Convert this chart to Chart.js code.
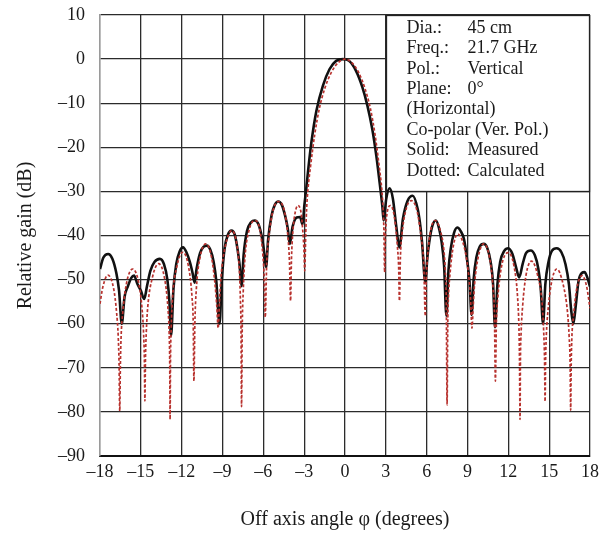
<!DOCTYPE html>
<html>
<head>
<meta charset="utf-8">
<script src="https://cdn.jsdelivr.net/npm/chart.js@4.4.1/dist/chart.umd.min.js"></script>
<style>
  html, body { margin: 0; padding: 0; background: #ffffff; }
  #wrap { width: 600px; height: 534px; }
</style>
</head>
<body>
<div id="wrap"><canvas id="c" width="600" height="534"></canvas></div>
<script>
// Off-axis radiation pattern, 45 cm reflector at 21.7 GHz, co-polar cut.

// Measured pattern (solid): angle in degrees, gain in dB
const measuredAngle = [
  -18.0, -17.75, -17.4, -17.1, -16.8, -16.6, -16.4, -16.2, -15.95, -15.7, -15.5, -15.25, -15.0, -14.75, -14.55, -14.3, -14.0, -13.6,
  -13.3, -13.05, -12.9, -12.78, -12.6, -12.4, -12.15, -11.9, -11.65, -11.4, -11.2, -11.05, -10.9, -10.65, -10.4, -10.15,
  -9.9, -9.65, -9.45, -9.22, -9.05, -8.85, -8.6, -8.34, -8.1, -7.9, -7.75, -7.6, -7.45, -7.2, -6.9, -6.63,
  -6.35, -6.1, -5.95, -5.8, -5.65, -5.4, -5.15, -4.9, -4.65, -4.4, -4.2, -4.06, -3.85, -3.55, -3.3, -3.12,
  -2.98, -2.85, -2.7, -2.47, -2.1, -1.62, -1.14, -0.65, -0.15, 0.3, 0.8, 1.28, 1.65, 2.0, 2.3, 2.54, 2.74, 2.84,
  3.03, 3.28, 3.52, 3.76, 4.0, 4.25, 4.6, 4.98, 5.34, 5.5, 5.66, 5.9, 6.05, 6.19, 6.4, 6.67, 6.92, 7.1, 7.28, 7.45,
  7.6, 7.77, 8.0, 8.25, 8.5, 8.74, 8.95, 9.15, 9.3, 9.45, 9.65, 9.9, 10.2, 10.45, 10.7, 10.88, 11.02,
  11.2, 11.4, 11.7, 12.0, 12.3, 12.55, 12.8, 13.05, 13.3, 13.65, 13.95, 14.2, 14.38, 14.55,
  14.72, 14.95, 15.2, 15.55, 15.9, 16.2, 16.45, 16.62, 16.78, 16.95, 17.15, 17.4, 17.6, 17.8, 18.0
];
const measuredGain = [
  -47.6, -45.0, -44.2, -45.2, -48.5, -52.5, -60.0, -54.0, -51.5, -49.6, -49.1, -51.0, -52.5, -54.4, -51.5, -48.0, -46.0, -45.3,
  -46.5, -50.0, -55.0, -62.7, -52.0, -46.5, -43.6, -42.7, -43.8, -46.0, -48.5, -50.7, -47.5, -44.0, -42.6, -42.3,
  -43.2, -46.0, -50.5, -60.0, -50.0, -43.0, -39.8, -38.9, -39.8, -43.0, -46.5, -51.5, -44.5, -39.0, -37.0, -36.6,
  -37.5, -40.5, -43.5, -47.2, -41.0, -35.5, -33.0, -32.3, -33.0, -35.5, -38.5, -41.9, -38.0, -35.9, -35.8, -37.5,
  -33.0, -29.5, -25.0, -18.9, -11.7, -6.0, -2.3, -0.4, 0.0, -0.4, -2.6, -6.4, -10.6, -15.8, -21.9, -27.9, -33.2, -36.6,
  -31.7, -29.3, -31.7, -37.8, -42.7, -36.3, -32.1, -31.0, -34.0, -37.0, -41.5, -50.6, -45.0, -41.5, -38.0, -36.6, -38.5, -41.5, -46.8, -58.2,
  -48.0, -43.0, -39.5, -38.2, -39.0, -40.8, -45.0, -50.5, -58.0, -50.0, -45.0, -42.5, -41.9, -42.8, -46.0, -51.0, -60.8,
  -51.0, -46.0, -43.5, -42.9, -44.2, -47.0, -49.5, -46.5, -44.0, -43.4, -44.5, -47.5, -52.0, -60.0,
  -51.0, -46.0, -43.5, -42.9, -43.8, -46.5, -51.0, -57.0, -60.0, -56.0, -50.5, -48.5, -48.3, -49.5, -51.6
];

// Calculated pattern (dotted): angle in degrees, gain in dB
const calculatedAngle = [
  -18.0, -17.8, -17.42, -17.0, -16.78, -16.66, -16.6, -16.55,
  -16.5, -16.45, -16.33, -16.05, -15.6, -15.15, -14.9, -14.8, -14.74, -14.7,
  -14.66, -14.6, -14.5, -14.15, -13.7, -13.27, -13.02, -12.92, -12.88, -12.85,
  -12.82, -12.77, -12.67, -12.35, -11.92, -11.5, -11.24, -11.15, -11.1,
  -11.03, -10.92, -10.65, -10.22, -9.8, -9.55, -9.42, -9.32,
  -9.22, -9.1, -8.8, -8.32, -7.95, -7.75, -7.68, -7.64, -7.6,
  -7.55, -7.48, -7.35, -7.05, -6.62, -6.25, -6.02, -5.93, -5.86,
  -5.75, -5.6, -5.3, -4.9, -4.45, -4.2, -4.08, -4.0,
  -3.93, -3.85, -3.7, -3.45, -3.22, -3.1, -3.02, -2.96,
  -2.88, -2.82, -2.72, -2.52, -2.22, -1.87, -1.47, -1.0, -0.5, 0.0,
  0.5, 1.0, 1.45, 1.85, 2.2, 2.5, 2.7, 2.8, 2.86, 2.91,
  2.97, 3.05, 3.15, 3.33, 3.55, 3.72, 3.85, 3.94, 4.0,
  4.07, 4.18, 4.45, 4.86, 5.3, 5.6, 5.78, 5.9,
  5.97, 6.06, 6.3, 6.62, 7.0, 7.27, 7.37, 7.44, 7.5,
  7.55, 7.6, 7.72, 7.95, 8.28, 8.75, 9.05, 9.22, 9.33,
  9.42, 9.52, 9.78, 10.18, 10.62, 10.88, 10.98, 11.05,
  11.12, 11.23, 11.5, 11.98, 12.42, 12.68, 12.78, 12.82, 12.86,
  12.89, 12.94, 13.05, 13.3, 13.7, 14.15, 14.5, 14.6, 14.66, 14.7,
  14.74, 14.8, 14.9, 15.15, 15.56, 16.02, 16.35, 16.47, 16.54, 16.58,
  16.62, 16.67, 16.78, 17.0, 17.42, 17.75, 18.0
];
const calculatedGain = [
  -55.5, -51.8, -49.0, -52.0, -57.5, -63.0, -69.0, -79.8,
  -69.0, -63.0, -57.5, -50.8, -47.6, -50.8, -57.0, -62.0, -68.0, -77.5,
  -68.0, -62.0, -56.5, -49.5, -46.4, -49.5, -56.0, -62.0, -68.0, -81.7,
  -68.0, -61.0, -54.0, -47.0, -43.8, -47.0, -54.0, -60.0, -73.0,
  -60.0, -52.0, -45.0, -41.9, -45.0, -51.0, -56.0, -61.0,
  -55.0, -49.0, -42.5, -38.9, -42.0, -48.5, -55.0, -61.0, -78.8,
  -61.0, -53.0, -45.0, -38.8, -36.6, -38.8, -45.0, -50.0, -58.5,
  -46.0, -40.5, -34.5, -32.3, -34.5, -40.0, -46.0, -54.8,
  -45.0, -40.0, -35.5, -33.2, -35.0, -39.0, -43.0, -48.0,
  -39.0, -34.0, -29.5, -24.0, -17.0, -11.0, -6.5, -3.0, -0.8, 0.0,
  -0.8, -3.0, -6.5, -11.0, -17.0, -24.0, -29.5, -34.0, -39.0, -48.3,
  -40.0, -36.0, -34.0, -33.2, -34.5, -38.0, -42.5, -47.0, -54.8,
  -45.0, -40.0, -34.5, -32.1, -34.5, -40.5, -46.0, -58.2,
  -50.0, -45.0, -38.8, -36.6, -38.8, -43.5, -48.0, -55.0, -78.4,
  -60.0, -54.0, -48.5, -42.5, -39.7, -42.5, -48.0, -54.0, -61.0,
  -56.0, -51.0, -45.0, -41.9, -45.0, -52.0, -58.0, -73.0,
  -60.0, -54.0, -47.0, -43.9, -47.0, -54.0, -61.0, -68.0, -81.7,
  -68.0, -62.0, -56.0, -49.0, -45.8, -49.0, -56.0, -62.0, -68.0, -77.6,
  -68.0, -62.0, -57.5, -51.0, -47.6, -51.0, -57.5, -63.0, -69.0, -79.6,
  -69.0, -63.0, -58.5, -52.5, -49.1, -51.5, -56.5
];

// Axis ticks
const xTicks = [-18, -15, -12, -9, -6, -3, 0, 3, 6, 9, 12, 15, 18];
const yTicks = [10, 0, -10, -20, -30, -40, -50, -60, -70, -80, -90];

// Parameter box: label column and value column
const infoLabels = ['Dia.:', 'Freq.:', 'Pol.:', 'Plane:', '(Horizontal)', 'Co-polar (Ver. Pol.)', 'Solid:', 'Dotted:'];
const infoValues = ['45 cm', '21.7 GHz', 'Vertical', '0°', '', '', 'Measured', 'Calculated'];
// Box extent in data units: [x from, x to], [y top, y bottom]
const infoBoxX = [3, 18];
const infoBoxY = [10, -30];

const SERIF = '"Liberation Serif", "Times New Roman", serif';
const fmt = v => (v < 0 ? '\u2013' + Math.abs(v) : String(v));

const pairs = (xs, ys) => xs.map((x, i) => ({ x: x, y: ys[i] }));

const infoBox = {
  id: 'infoBox',
  beforeDatasetsDraw(chart) {
    const { ctx, scales: { x, y } } = chart;
    const left = Math.round(x.getPixelForValue(infoBoxX[0])) + 0.5;
    const right = Math.round(x.getPixelForValue(infoBoxX[1])) - 0.5;
    const top = Math.round(y.getPixelForValue(infoBoxY[0])) + 0.5;
    const bottom = Math.round(y.getPixelForValue(infoBoxY[1])) + 0.5;
    ctx.save();
    ctx.fillStyle = '#ffffff';
    ctx.fillRect(left, top, right - left, bottom - top);
    ctx.strokeStyle = '#222222';
    ctx.lineWidth = 1.3;
    ctx.strokeRect(left, top, right - left, bottom - top);
    ctx.fillStyle = '#1a1a1a';
    ctx.font = '18px ' + SERIF;
    ctx.textBaseline = 'middle';
    ctx.textAlign = 'left';
    const step = 20.4;
    for (let i = 0; i < infoLabels.length; i++) {
      const cy = top + 12.5 + i * step;
      ctx.fillText(infoLabels[i], left + 20, cy);
      if (infoValues[i]) ctx.fillText(infoValues[i], left + 81, cy);
    }
    ctx.restore();
  }
};

new Chart(document.getElementById('c'), {
  type: 'line',
  data: {
    datasets: [
      {
        label: 'Measured',
        data: pairs(measuredAngle, measuredGain),
        borderColor: '#111111',
        borderWidth: 2.6,
        pointRadius: 0,
        cubicInterpolationMode: 'monotone',
        order: 2
      },
      {
        label: 'Calculated',
        data: pairs(calculatedAngle, calculatedGain),
        borderColor: '#b8322e',
        borderWidth: 1.7,
        borderDash: [3, 2],
        pointRadius: 0,
        cubicInterpolationMode: 'monotone',
        order: 1
      }
    ]
  },
  options: {
    responsive: false,
    animation: false,
    layout: { padding: { top: 15, right: 10, left: 0, bottom: 0 } },
    plugins: { legend: { display: false }, tooltip: { enabled: false } },
    scales: {
      x: {
        type: 'linear',
        min: -18,
        max: 18,
        afterBuildTicks: s => { s.ticks = xTicks.map(v => ({ value: v })); },
        afterFit: s => { s.height = 78; s.paddingLeft = 0; s.paddingRight = 0; },
        ticks: {
          callback: v => fmt(v),
          color: '#1a1a1a',
          font: { family: SERIF, size: 18 },
          padding: 5,
          maxRotation: 0,
          autoSkip: false
        },
        grid: {
          color: c => (c.tick && c.tick.value === -18 ? '#9a9a9a' : '#2b2b2b'),
          lineWidth: 1.3,
          drawTicks: false
        },
        border: { display: true, color: '#111111', width: 2 },
        title: {
          display: true,
          text: 'Off axis angle φ (degrees)',
          color: '#1a1a1a',
          font: { family: SERIF, size: 20 },
          padding: { top: 0, bottom: 2 }
        }
      },
      y: {
        min: -90,
        max: 10,
        afterBuildTicks: s => { s.ticks = yTicks.map(v => ({ value: v })); },
        afterFit: s => { s.width = 100; s.paddingTop = 0; s.paddingBottom = 0; },
        ticks: {
          callback: v => fmt(v),
          color: '#1a1a1a',
          font: { family: SERIF, size: 18 },
          padding: 15
        },
        grid: {
          color: '#2b2b2b',
          lineWidth: 1.3,
          drawTicks: false
        },
        border: { display: true, color: '#9a9a9a', width: 1.5 },
        title: {
          display: true,
          text: 'Relative gain (dB)',
          color: '#1a1a1a',
          font: { family: SERIF, size: 20 },
          padding: { top: 14, bottom: 0 }
        }
      }
    }
  },
  plugins: [infoBox]
});
</script>
</body>
</html>
